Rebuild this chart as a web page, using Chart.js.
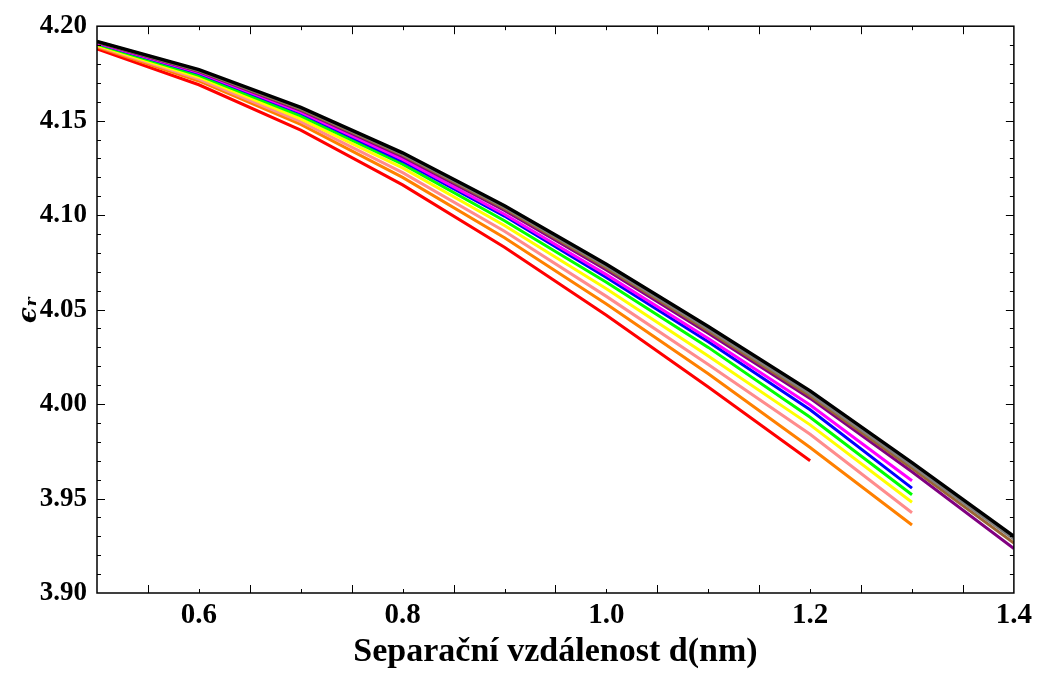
<!DOCTYPE html>
<html>
<head>
<meta charset="utf-8">
<script src="https://cdn.jsdelivr.net/npm/chart.js@4/dist/chart.umd.min.js"></script>
<style>
  html, body { margin: 0; padding: 0; background: #fff; }
  #wrap { width: 1037px; height: 677px; }
</style>
</head>
<body>
<div id="wrap"><canvas id="epsChart"></canvas></div>
<script>
// separation distance d (nm)
const dValues = [0.5, 0.6, 0.7, 0.8, 0.9, 1.0, 1.1, 1.2, 1.3, 1.4];

// relative permittivity curves, bottom to top of the bundle
const epsRed     = [4.188, 4.169, 4.145, 4.116, 4.083, 4.047, 4.009, 3.970];
const epsOrange  = [4.189, 4.171, 4.148, 4.120, 4.088, 4.053, 4.016, 3.977, 3.936];
const epsPink    = [4.1895, 4.172, 4.1495, 4.1225, 4.0915, 4.057, 4.021, 3.984, 3.9425];
const epsYellow  = [4.190, 4.173, 4.151, 4.125, 4.0945, 4.061, 4.0255, 3.989, 3.948];
const epsGreen   = [4.1905, 4.174, 4.1525, 4.127, 4.097, 4.0645, 4.030, 3.993, 3.952];
const epsBlue    = [4.191, 4.175, 4.154, 4.1285, 4.0995, 4.067, 4.033, 3.997, 3.9555];
const epsMagenta = [4.1912, 4.1755, 4.1545, 4.1295, 4.1005, 4.0685, 4.0347, 3.9995, 3.9594];
const epsPurple  = [4.1915, 4.176, 4.1555, 4.131, 4.1025, 4.071, 4.0375, 4.003, 3.9642, 3.9235];
const epsBrown   = [4.1917, 4.1764, 4.156, 4.1317, 4.1034, 4.072, 4.0387, 4.0043, 3.966, 3.9265];
const epsGray    = [4.1918, 4.1767, 4.1565, 4.1323, 4.1042, 4.073, 4.0398, 4.0055, 3.9675, 3.9285];
const epsBlack   = [4.192, 4.177, 4.157, 4.133, 4.105, 4.074, 4.041, 4.007, 3.969, 3.930];

const xTicks = [0.6, 0.8, 1.0, 1.2, 1.4];
const yTicks = [3.90, 3.95, 4.00, 4.05, 4.10, 4.15, 4.20];

const curves = [
    [epsRed, '#ff0000'],
    [epsOrange, '#ff8000'],
    [epsPink, '#ff8c8c'],
    [epsYellow, '#ffff00'],
    [epsGreen, '#00ff00'],
    [epsBlue, '#0000ff'],
    [epsMagenta, '#ff00ff'],
    [epsPurple, '#800080'],
    [epsBrown, '#996633'],
    [epsGray, '#808080'],
    [epsBlack, '#000000'],
];

// Mathematica-style frame with inward ticks on all four sides
const frameTicks = {
    id: 'frameTicks',
    afterDatasetsDraw(chart) {
        const { ctx, chartArea: a, scales: { x, y } } = chart;
        ctx.save();
        ctx.strokeStyle = '#000';
        ctx.lineWidth = 1.5;
        ctx.strokeRect(a.left, a.top, a.right - a.left, a.bottom - a.top);
        ctx.lineWidth = 1;
        ctx.beginPath();
        for (let i = 1; i < 18; i++) {
            const v = 0.5 + i * 0.05;
            const px = Math.round(x.getPixelForValue(v)) + 0.5;
            const len = (i % 2 === 1) ? 8 : 4;
            ctx.moveTo(px, a.bottom); ctx.lineTo(px, a.bottom - len);
            ctx.moveTo(px, a.top); ctx.lineTo(px, a.top + len);
        }
        for (let i = 1; i < 30; i++) {
            const v = 3.90 + i * 0.01;
            const py = Math.round(y.getPixelForValue(v)) + 0.5;
            const len = (i % 5 === 0) ? 8 : 4;
            ctx.moveTo(a.left, py); ctx.lineTo(a.left + len, py);
            ctx.moveTo(a.right, py); ctx.lineTo(a.right - len, py);
        }
        ctx.stroke();
        ctx.restore();
    }
};

const ctx = document.getElementById('epsChart').getContext('2d');
const epsChart = new Chart(ctx, {
    type: 'line',
    data: {
        datasets: curves.map(function(c) {
            return {
                data: c[0].map(function(v, i) { return { x: dValues[i], y: v }; }),
                borderColor: c[1],
                borderWidth: c[1] === '#000000' ? 3.5 : 3,
                pointRadius: 0,
                tension: 0,
                fill: false,
            };
        }).reverse(),
    },
    options: {
        responsive: true,
        maintainAspectRatio: false,
        animation: false,
        layout: { padding: { left: 0, top: 25, right: 22, bottom: 0 } },
        plugins: {
            legend: { display: false },
            tooltip: { enabled: false },
        },
        scales: {
            x: {
                type: 'linear',
                min: 0.5,
                max: 1.4,
                afterBuildTicks: function(scale) {
                    scale.ticks = xTicks.map(function(v) { return { value: v }; });
                },
                afterFit: function(scale) { scale.height = 84; },
                grid: { display: false, drawTicks: false },
                border: { display: false },
                ticks: {
                    padding: 5,
                    color: '#000',
                    maxRotation: 0,
                    font: { family: 'Liberation Serif', weight: 'bold', size: 29 },
                    callback: function(value) { return value.toFixed(1); },
                },
                title: {
                    display: true,
                    text: 'Separační vzdálenost d(nm)',
                    color: '#000',
                    padding: { top: 0, bottom: 4 },
                    font: { family: 'Liberation Serif', weight: 'bold', size: 34 },
                },
            },
            y: {
                min: 3.90,
                max: 4.20,
                afterBuildTicks: function(scale) {
                    scale.ticks = yTicks.map(function(v) { return { value: v }; });
                },
                afterFit: function(scale) { scale.width = 97; },
                grid: { display: false, drawTicks: false },
                border: { display: false },
                ticks: {
                    padding: 10,
                    color: '#000',
                    font: { family: 'Liberation Serif', weight: 'bold', size: 27 },
                    callback: function(value) { return value.toFixed(2); },
                },
                title: {
                    display: true,
                    text: 'ϵᵣ',
                    color: '#000',
                    padding: { top: 14, bottom: 0 },
                    font: { family: 'DejaVu Serif', weight: 'bold', style: 'italic', size: 26 },
                },
            },
        },
    },
    plugins: [frameTicks],
});
</script>
</body>
</html>
